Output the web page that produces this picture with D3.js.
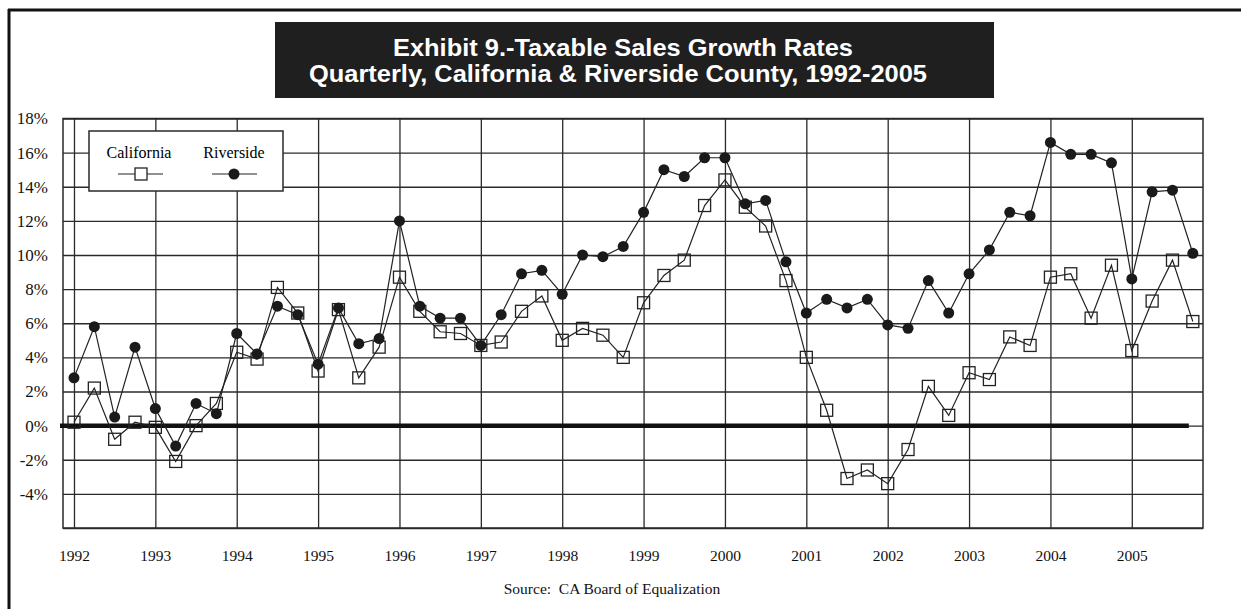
<!DOCTYPE html>
<html>
<head>
<meta charset="utf-8">
<script src="https://cdn.jsdelivr.net/npm/d3@7"></script>
<style>
  body { margin: 0; background: #fff; }
  svg { display: block; }
  .grid line { stroke: #2a2a2a; stroke-width: 1.3; }
  .grid path { display: none; }
  .grid text { font-family: "Liberation Serif", "Times New Roman", serif; fill: #111; }
</style>
</head>
<body>
<script>
// Quarterly growth rates (%), 1992 Q1 .. 2005 Q4
var years = [1992, 1993, 1994, 1995, 1996, 1997, 1998, 1999, 2000, 2001, 2002, 2003, 2004, 2005];
var yTicks = [-6, -4, -2, 0, 2, 4, 6, 8, 10, 12, 14, 16, 18];
var yLabels = [-4, -2, 0, 2, 4, 6, 8, 10, 12, 14, 16, 18];

var california = [
  0.2, 2.2, -0.8, 0.2,
  -0.1, -2.1, 0.0, 1.3,
  4.3, 3.9, 8.1, 6.6,
  3.2, 6.8, 2.8, 4.6,
  8.7, 6.7, 5.5, 5.4,
  4.7, 4.9, 6.7, 7.6,
  5.0, 5.7, 5.3, 4.0,
  7.2, 8.8, 9.7, 12.9,
  14.4, 12.8, 11.7, 8.5,
  4.0, 0.9, -3.1, -2.6,
  -3.4, -1.4, 2.3, 0.6,
  3.1, 2.7, 5.2, 4.7,
  8.7, 8.9, 6.3, 9.4,
  4.4, 7.3, 9.7, 6.1
];

var riverside = [
  2.8, 5.8, 0.5, 4.6,
  1.0, -1.2, 1.3, 0.7,
  5.4, 4.2, 7.0, 6.5,
  3.6, 6.9, 4.8, 5.1,
  12.0, 7.0, 6.3, 6.3,
  4.7, 6.5, 8.9, 9.1,
  7.7, 10.0, 9.9, 10.5,
  12.5, 15.0, 14.6, 15.7,
  15.7, 13.0, 13.2, 9.6,
  6.6, 7.4, 6.9, 7.4,
  5.9, 5.7, 8.5, 6.6,
  8.9, 10.3, 12.5, 12.3,
  16.6, 15.9, 15.9, 15.4,
  8.6, 13.7, 13.8, 10.1
];

var W = 1241, H = 609;
var plot = {left: 63, right: 1203, top: 118.5, bottom: 528};

var svg = d3.select("body").append("svg")
    .attr("width", W)
    .attr("height", H);

// page frame (top and left edges of the scanned page)
svg.append("line").attr("x1", 8).attr("x2", W).attr("y1", 10).attr("y2", 10)
    .attr("stroke", "#111").attr("stroke-width", 3);
svg.append("line").attr("x1", 9).attr("x2", 9).attr("y1", 9).attr("y2", H)
    .attr("stroke", "#111").attr("stroke-width", 3);

// title block
svg.append("rect")
    .attr("x", 275).attr("y", 22)
    .attr("width", 719).attr("height", 76)
    .attr("fill", "#1f1f1f");

var title = svg.append("g")
    .attr("font-family", "'Liberation Sans', Arial, sans-serif")
    .attr("font-weight", "bold")
    .attr("font-size", 24)
    .attr("fill", "#fff")
    .attr("text-anchor", "middle");
title.append("text").attr("x", 623).attr("y", 56)
    .attr("textLength", 460).attr("lengthAdjust", "spacingAndGlyphs")
    .text("Exhibit 9.-Taxable Sales Growth Rates");
title.append("text").attr("x", 618).attr("y", 82)
    .attr("textLength", 618).attr("lengthAdjust", "spacingAndGlyphs")
    .text("Quarterly, California & Riverside County, 1992-2005");

// scales: x is quarter index (0 = 1992 Q1)
var x = d3.scaleLinear()
    .domain([-0.54, 55.5])
    .range([plot.left, plot.right]);

var y = d3.scaleLinear()
    .domain([-6, 18])
    .range([plot.bottom, plot.top]);

// horizontal grid + y labels
var yAxis = d3.axisLeft(y)
    .tickValues(yTicks)
    .tickSize(-(plot.right - plot.left))
    .tickPadding(15)
    .tickFormat(function(d) { return yLabels.indexOf(d) >= 0 ? d + "%" : ""; });

svg.append("g")
    .attr("class", "grid")
    .attr("transform", "translate(" + plot.left + ",0)")
    .call(yAxis)
    .selectAll("text")
      .attr("font-size", 17);

// vertical grid at each year + year labels
var xAxis = d3.axisBottom(x)
    .tickValues(years.map(function(yr) { return (yr - 1992) * 4; }))
    .tickSize(-(plot.bottom - plot.top))
    .tickPadding(22)
    .tickFormat(function(d) { return years[d / 4]; });

svg.append("g")
    .attr("class", "grid")
    .attr("transform", "translate(0," + plot.bottom + ")")
    .call(xAxis)
    .selectAll("text")
      .attr("font-size", 15.5);

// plot border
svg.append("rect")
    .attr("x", plot.left).attr("y", plot.top)
    .attr("width", plot.right - plot.left)
    .attr("height", plot.bottom - plot.top)
    .attr("fill", "none")
    .attr("stroke", "#2a2a2a")
    .attr("stroke-width", 1.5);

// heavy zero line
svg.append("line")
    .attr("x1", plot.left - 3).attr("x2", x(55) - 4)
    .attr("y1", y(0)).attr("y2", y(0))
    .attr("stroke", "#111")
    .attr("stroke-width", 4.5);

var line = d3.line()
    .x(function(d, i) { return x(i); })
    .y(function(d) { return y(d); });

// California: line + hollow squares
svg.append("path")
    .datum(california)
    .attr("d", line)
    .attr("fill", "none")
    .attr("stroke", "#222")
    .attr("stroke-width", 1.2);

svg.selectAll(".sq")
    .data(california)
    .enter().append("rect")
      .attr("class", "sq")
      .attr("x", function(d, i) { return x(i) - 6; })
      .attr("y", function(d) { return y(d) - 6; })
      .attr("width", 12).attr("height", 12)
      .attr("fill", "none")
      .attr("stroke", "#222")
      .attr("stroke-width", 1.3);

// Riverside: line + filled circles
svg.append("path")
    .datum(riverside)
    .attr("d", line)
    .attr("fill", "none")
    .attr("stroke", "#222")
    .attr("stroke-width", 1.2);

svg.selectAll(".dot")
    .data(riverside)
    .enter().append("circle")
      .attr("class", "dot")
      .attr("cx", function(d, i) { return x(i); })
      .attr("cy", function(d) { return y(d); })
      .attr("r", 5.5)
      .attr("fill", "#1a1a1a");

// legend
var legend = svg.append("g").attr("transform", "translate(89,131)");
legend.append("rect")
    .attr("width", 194).attr("height", 60)
    .attr("fill", "#fff")
    .attr("stroke", "#2a2a2a")
    .attr("stroke-width", 1.5);

legend.append("text")
    .attr("x", 50).attr("y", 27)
    .attr("text-anchor", "middle")
    .attr("font-family", "'Liberation Serif', 'Times New Roman', serif")
    .attr("font-size", 16)
    .text("California");
legend.append("text")
    .attr("x", 145).attr("y", 27)
    .attr("text-anchor", "middle")
    .attr("font-family", "'Liberation Serif', 'Times New Roman', serif")
    .attr("font-size", 16)
    .text("Riverside");

legend.append("line").attr("x1", 29).attr("x2", 74).attr("y1", 43).attr("y2", 43)
    .attr("stroke", "#222").attr("stroke-width", 1.2);
legend.append("rect").attr("x", 46).attr("y", 37).attr("width", 12).attr("height", 12)
    .attr("fill", "#fff").attr("stroke", "#222").attr("stroke-width", 1.3);
legend.append("line").attr("x1", 123).attr("x2", 168).attr("y1", 43).attr("y2", 43)
    .attr("stroke", "#222").attr("stroke-width", 1.2);
legend.append("circle").attr("cx", 145).attr("cy", 43).attr("r", 5.5)
    .attr("fill", "#1a1a1a");

// source note
svg.append("text")
    .attr("x", 612).attr("y", 594)
    .attr("text-anchor", "middle")
    .attr("font-family", "'Liberation Serif', 'Times New Roman', serif")
    .attr("font-size", 15.5)
    .attr("fill", "#111")
    .style("white-space", "pre")
    .text("Source:  CA Board of Equalization");
</script>
</body>
</html>
